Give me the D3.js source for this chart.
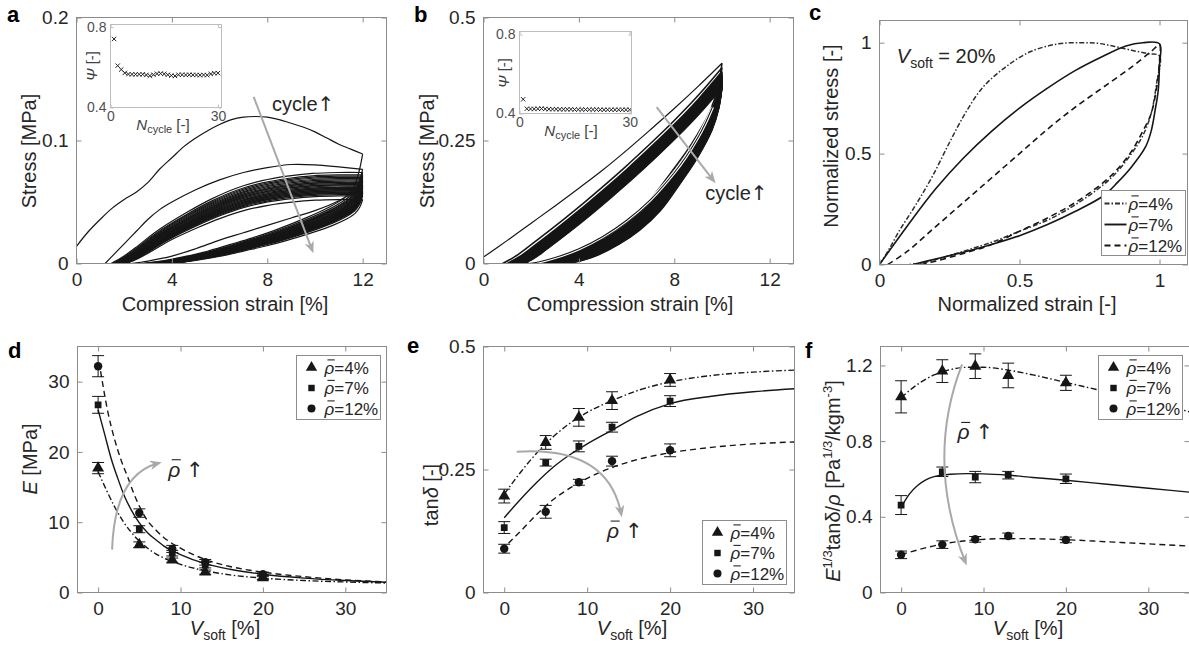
<!DOCTYPE html>
<html>
<head>
<meta charset="utf-8">
<script src="https://cdn.jsdelivr.net/npm/d3@7"></script>
<style>
  body { margin: 0; background: #fff; }
  svg { display: block; }
</style>
</head>
<body>
<script>
// ---------------- data ----------------
// (a) cyclic compression, 30 cycles up to 12 % strain
const aMaxStrain = 12;
const aStrainTicks = [0, 4, 8, 12];
const aStressTicks = [0, 0.1, 0.2];
const aCycle1Load = [[0,0.014],[0.5,0.026],[1,0.036],[1.5,0.045],[2,0.052],[2.5,0.058],[3,0.066],[3.5,0.077],[4,0.086],[4.5,0.095],[5,0.102],[5.5,0.108],[6,0.113],[6.5,0.117],[7,0.119],[7.5,0.1195],[8,0.119],[8.5,0.117],[9,0.114],[9.5,0.111],[10,0.107],[10.5,0.102],[11,0.097],[11.5,0.093],[12,0.089]];
const aCycle1Unload = [[12,0.089],[11.85,0.075],[11.65,0.063],[11.4,0.056],[11,0.051],[10,0.043],[9,0.037],[8,0.031],[7,0.025],[6,0.019],[5,0.012],[4,0.006],[3,0.002],[2.3,0]];
const aCycle2Load = [[1.2,0],[1.6,0.008],[2,0.016],[2.5,0.026],[3,0.036],[3.5,0.044],[4,0.05],[5,0.06],[6,0.068],[7,0.074],[8,0.078],[9,0.0805],[10,0.0802],[11,0.0785],[12,0.0765]];
// loading / unloading profiles of the later cycles (fraction of strain span, fraction of peak stress)
const aLoadShape = [[0,0],[0.05,0.08],[0.1,0.18],[0.15,0.29],[0.2,0.39],[0.3,0.56],[0.4,0.71],[0.5,0.83],[0.6,0.91],[0.7,0.96],[0.8,0.99],[0.9,1.0],[1,1.0]];
const aUnloadShape = [[1,1],[0.985,0.88],[0.96,0.78],[0.92,0.7],[0.85,0.6],[0.75,0.49],[0.6,0.35],[0.5,0.27],[0.4,0.2],[0.3,0.13],[0.2,0.075],[0.1,0.028],[0,0]];
// cycles 2..30
const aPeak = [0.0765,0.074,0.072,0.071,0.07,0.069,0.068,0.067,0.066,0.066,0.065,0.064,0.064,0.063,0.062,0.062,0.061,0.061,0.06,0.06,0.059,0.059,0.058,0.058,0.057,0.057,0.056,0.055,0.052];
const aOnset = [1.2,1.45,1.5,1.55,1.58,1.62,1.65,1.68,1.7,1.72,1.75,1.77,1.8,1.82,1.84,1.86,1.88,1.9,1.92,1.94,1.95,1.97,1.98,2.0,2.02,2.03,2.05,2.07,2.1];
const aUnloadEnd = [2.7,2.8,2.85,2.9,2.95,3.0,3.05,3.1,3.1,3.15,3.2,3.2,3.25,3.3,3.3,3.35,3.4,3.4,3.45,3.5,3.5,3.55,3.6,3.6,3.65,3.7,3.7,3.75,3.8];
const aPsi = [0.741,0.608,0.589,0.572,0.566,0.565,0.565,0.565,0.565,0.562,0.558,0.563,0.568,0.569,0.567,0.563,0.559,0.557,0.563,0.563,0.562,0.563,0.562,0.562,0.561,0.562,0.561,0.567,0.571,0.571];

// (b) cyclic compression, 30 cycles up to 10 % strain
const bMaxStrain = 10;
const bStrainTicks = [0, 4, 8, 12];
const bStressTicks = [0, 0.25, 0.5];
const bCycle1Load = [[0,0.013],[1,0.047],[2,0.082],[3,0.117],[4,0.153],[5,0.19],[6,0.23],[7,0.272],[8,0.315],[9,0.36],[10,0.407]];
const bLoadShape = [[0,0],[0.056,0.035],[0.111,0.08],[0.222,0.175],[0.333,0.275],[0.444,0.38],[0.556,0.49],[0.667,0.605],[0.778,0.725],[0.889,0.855],[1,1]];
const bUnloadShape = [[1,1],[0.98,0.88],[0.94,0.76],[0.85,0.6],[0.75,0.46],[0.625,0.3],[0.5,0.19],[0.375,0.11],[0.25,0.05],[0.125,0.012],[0,0]];
// cycles 2..30
const bPeak = [0.398,0.39,0.387,0.385,0.383,0.381,0.38,0.379,0.378,0.377,0.376,0.375,0.374,0.373,0.372,0.371,0.37,0.369,0.368,0.367,0.366,0.365,0.364,0.363,0.362,0.361,0.36,0.359,0.358];
const bOnset = [0.8,1.0,1.05,1.09,1.12,1.15,1.18,1.21,1.24,1.27,1.3,1.33,1.36,1.39,1.42,1.45,1.47,1.49,1.51,1.53,1.55,1.57,1.59,1.61,1.63,1.65,1.67,1.69,1.72];
// cycles 1..30
const bUnloadEnd = [1.6,1.7,1.76,1.82,1.88,1.93,1.98,2.03,2.08,2.13,2.18,2.23,2.28,2.33,2.38,2.43,2.48,2.53,2.58,2.63,2.68,2.73,2.78,2.83,2.88,2.93,2.97,3.01,3.05,3.1];
const bLastUnload = [[9.6,0.318],[9.3,0.285],[9,0.257],[8.5,0.218],[8,0.185],[7,0.13],[6,0.088],[5,0.055],[4,0.03],[3,0.012],[2.3,0.003],[1.9,0]];
const bPsi = [0.472,0.424,0.423,0.423,0.424,0.425,0.423,0.422,0.422,0.422,0.421,0.421,0.421,0.421,0.42,0.42,0.42,0.42,0.42,0.42,0.42,0.419,0.419,0.419,0.419,0.419,0.419,0.419,0.419,0.419];
const psiTicks = [0.4, 0.8];
const cycleTicks = [0, 30];

// (c) normalized loops at V_soft = 20 %
const normTicks = [0, 0.5, 1];
const cLoop4 = [[0,0],[0.03,0.06],[0.07,0.15],[0.13,0.27],[0.19,0.4],[0.25,0.55],[0.31,0.69],[0.37,0.8],[0.45,0.89],[0.54,0.96],[0.64,0.995],[0.72,1.0],[0.78,0.997],[0.84,0.983],[0.9,0.966],[0.96,0.95],[1.0,0.94],
  [0.99,0.82],[0.97,0.68],[0.94,0.58],[0.9,0.5],[0.85,0.42],[0.8,0.36],[0.7,0.27],[0.6,0.2],[0.5,0.15],[0.4,0.1],[0.3,0.06],[0.2,0.022],[0.15,0.006],[0.1,0]];
const cLoop7 = [[0,0],[0.1,0.175],[0.2,0.34],[0.3,0.48],[0.4,0.6],[0.5,0.705],[0.6,0.795],[0.7,0.875],[0.8,0.94],[0.88,0.985],[0.94,1.0],[1.0,0.995],
  [1.0,0.9],[0.995,0.78],[0.985,0.7],[0.97,0.6],[0.95,0.53],[0.9,0.44],[0.85,0.37],[0.8,0.31],[0.7,0.24],[0.6,0.18],[0.5,0.13],[0.4,0.09],[0.3,0.055],[0.2,0.025],[0.12,0]];
const cLoop12 = [[0.03,0],[0.1,0.06],[0.2,0.17],[0.3,0.28],[0.4,0.39],[0.5,0.5],[0.6,0.61],[0.7,0.71],[0.8,0.8],[0.9,0.89],[0.97,0.96],[1.0,0.99],
  [1.0,0.92],[0.99,0.8],[0.97,0.68],[0.94,0.6],[0.9,0.51],[0.85,0.43],[0.8,0.37],[0.7,0.28],[0.6,0.21],[0.5,0.15],[0.4,0.09],[0.3,0.05],[0.2,0.015],[0.15,0]];

// (d)-(f) properties vs. soft-phase fraction
const densities = [4, 7, 12];
const vsoft = [0, 5, 9, 13, 20];
const vTicks = [0, 10, 20, 30];
const eTicks = [0, 10, 20, 30];
const E4 = [17.7, 6.8, 4.6, 2.9, 2.1], E4err = [0.8, 0.4, 0.3, 0.3, 0.3];
const E7 = [26.7, 9.0, 5.6, 3.9, 2.2], E7err = [1.2, 0.5, 0.4, 0.4, 0.3];
const E12 = [32.2, 11.3, 6.2, 4.3, 2.6], E12err = [1.5, 0.6, 0.5, 0.4, 0.3];
const Efit4 = [[0,17.2],[1,14.6],[2,12.2],[3,10.2],[4,8.6],[5,7.3],[6,6.3],[7,5.5],[8,4.9],[10,4.0],[13,3.1],[16,2.5],[20,2.05],[25,1.7],[30,1.5],[35,1.35]];
const Efit7 = [[0,26],[0.8,22.5],[1.6,19],[2.4,16.2],[3.2,13.7],[4,11.8],[5,9.9],[6,8.5],[7,7.5],[8,6.6],[10,5.4],[13,4.1],[16,3.3],[20,2.6],[25,2.05],[30,1.7],[35,1.45]];
const Efit12 = [[0.3,31.5],[1.2,25.6],[2,21.8],[2.8,18.8],[3.6,16.4],[4.4,13.9],[5,12.3],[6,10.2],[7,8.9],[8,7.8],[10,6.3],[13,4.7],[16,3.7],[20,2.9],[25,2.25],[30,1.8],[35,1.5]];

const tanTicks = [0, 0.25, 0.5];
const T4 = [0.196, 0.305, 0.356, 0.39, 0.432], T4err = [0.014, 0.014, 0.018, 0.018, 0.013];
const T7 = [0.132, 0.264, 0.297, 0.336, 0.389], T7err = [0.012, 0.007, 0.011, 0.01, 0.011];
const T12 = [0.089, 0.164, 0.224, 0.267, 0.289], T12err = [0.009, 0.013, 0.006, 0.01, 0.013];
const Tfit4 = [[0,0.2],[2,0.245],[4,0.285],[6,0.318],[8,0.345],[10,0.366],[13,0.39],[16,0.41],[20,0.428],[25,0.441],[30,0.448],[35,0.452]];
const Tfit7 = [[0,0.152],[2,0.19],[4,0.225],[6,0.256],[8,0.281],[10,0.302],[13,0.33],[16,0.358],[20,0.384],[25,0.399],[30,0.408],[35,0.414]];
const Tfit12 = [[0.5,0.1],[2,0.125],[4,0.16],[6,0.19],[8,0.213],[10,0.232],[13,0.254],[16,0.27],[20,0.284],[25,0.295],[30,0.302],[35,0.306]];

const meritTicks = [0, 0.4, 0.8, 1.2];
const M4 = [1.034, 1.17, 1.196, 1.147, 1.108], M4err = [0.085, 0.06, 0.065, 0.065, 0.04];
const M7 = [0.462, 0.638, 0.61, 0.62, 0.601], M7err = [0.05, 0.025, 0.03, 0.02, 0.025];
const M12 = [0.199, 0.253, 0.281, 0.299, 0.278], M12err = [0.02, 0.02, 0.015, 0.015, 0.015];
const Mfit4 = [[0,1.03],[2,1.1],[4,1.15],[6,1.178],[8,1.19],[10,1.19],[13,1.175],[16,1.15],[20,1.11],[25,1.06],[30,1.01],[35,0.955]];
const Mfit7 = [[0,0.45],[1,0.52],[2,0.565],[3,0.595],[4,0.612],[6,0.625],[8,0.628],[10,0.627],[13,0.62],[16,0.608],[20,0.593],[25,0.572],[30,0.551],[35,0.53]];
const Mfit12 = [[0,0.2],[2,0.225],[5,0.256],[9,0.278],[13,0.285],[16,0.284],[20,0.279],[25,0.268],[30,0.257],[35,0.245]];

// ---------------- drawing ----------------
const FONT = '"Liberation Sans", Arial, Helvetica, sans-serif';
const ARROW_FONT = '"DejaVu Sans", sans-serif';
const TXT = '#262626', AX = '#8c8c8c', INK = '#161616', ARROW = '#a9a9a9';
const svg = d3.select('body').append('svg')
  .attr('width', 1189).attr('height', 653)
  .attr('font-family', FONT);
const defs = svg.append('defs');
defs.append('marker').attr('id', 'ah').attr('viewBox', '0 0 10 10')
  .attr('refX', 7).attr('refY', 5).attr('markerWidth', 6).attr('markerHeight', 6)
  .attr('orient', 'auto')
  .append('path').attr('d', 'M0,1 L10,5 L0,9 L3,5 Z').attr('fill', ARROW);

function panel(o) {
  const x = d3.scaleLinear().domain(o.xd).range([o.x0, o.x1]);
  const y = d3.scaleLinear().domain(o.yd).range([o.y1, o.y0]);
  const g = svg.append('g');
  const cid = 'clip_' + o.id;
  defs.append('clipPath').attr('id', cid).append('rect')
    .attr('x', o.x0).attr('y', o.y0).attr('width', o.x1 - o.x0).attr('height', o.y1 - o.y0);
  if (o.fill) g.append('rect').attr('x', o.x0).attr('y', o.y0)
    .attr('width', o.x1 - o.x0).attr('height', o.y1 - o.y0).attr('fill', o.fill);
  const plot = g.append('g').attr('clip-path', `url(#${cid})`);
  const ax = g.append('g');
  const tl = o.tickLen || 5, fs = o.fs || 19, ac = o.ac || AX, tc = o.tc || TXT;
  const fmt = d => String(d);
  const list = [
    [d3.axisBottom(x).tickValues(o.xt).tickFormat(fmt).tickPadding(o.xpad ?? 9), `translate(0,${o.y1})`],
    [d3.axisTop(x).tickValues(o.xt).tickFormat(''), `translate(0,${o.y0})`],
    [d3.axisLeft(y).tickValues(o.yt).tickFormat(fmt).tickPadding(o.ypad ?? 8), `translate(${o.x0},0)`],
    [d3.axisRight(y).tickValues(o.yt).tickFormat(''), `translate(${o.x1},0)`]
  ];
  list.forEach(([a, t]) => {
    const s = ax.append('g').attr('transform', t)
      .call(a.tickSizeInner(-tl).tickSizeOuter(0));
    s.attr('font-family', FONT).attr('font-size', fs);
    s.select('.domain').remove();
    s.selectAll('line').attr('stroke', ac);
    s.selectAll('text').attr('fill', tc);
  });
  ax.append('rect').attr('x', o.x0).attr('y', o.y0)
    .attr('width', o.x1 - o.x0).attr('height', o.y1 - o.y0)
    .attr('fill', 'none').attr('stroke', ac).attr('stroke-width', 1);
  return { x, y, g, plot };
}

function richText(parent, parts, attrs) {
  const t = parent.append('text');
  Object.entries(attrs).forEach(([k, v]) => t.attr(k, v));
  parts.forEach(p => {
    const s = t.append('tspan').text(p.t);
    if (p.i) s.attr('font-style', 'italic');
    if (p.fs) s.attr('font-size', p.fs);
    if (p.dy) s.attr('dy', p.dy);
    if (p.ff) s.attr('font-family', p.ff);
  });
  return t;
}

// bar over the rho glyph (first character of the text)
function rhoBar(parent, t, fs, baseY) {
  const ext = t.node().getExtentOfChar(0);
  parent.append('line')
    .attr('x1', ext.x + ext.width * 0.3).attr('x2', ext.x + ext.width * 1.05)
    .attr('y1', baseY - fs * 0.8).attr('y2', baseY - fs * 0.8)
    .attr('stroke', t.attr('fill') || TXT).attr('stroke-width', 1.1);
}

function rhoText(parent, x, y, rest, fs, arrowUp) {
  const t = parent.append('text').attr('x', x).attr('y', y)
    .attr('font-size', fs).attr('fill', TXT);
  t.append('tspan').attr('font-style', 'italic').text('ρ');
  t.append('tspan').text(rest);
  if (arrowUp) t.append('tspan').attr('font-family', ARROW_FONT).text('↑');
  rhoBar(parent, t, fs, y);
  return t;
}

function panelLetter(ch, x, y) {
  svg.append('text').attr('x', x).attr('y', y).attr('font-size', 22)
    .attr('font-weight', 'bold').attr('fill', '#000').text(ch);
}

function xTitle(p, parts, cx, by) {
  richText(p.g, parts, { x: cx, y: by, 'text-anchor': 'middle', 'font-size': 20, fill: TXT });
}
function yTitle(p, parts, bx, cy) {
  richText(p.g, parts, { transform: `translate(${bx},${cy}) rotate(-90)`, 'text-anchor': 'middle', 'font-size': 20, fill: TXT });
}

function arrow(p, from, ctrl, to) {
  // straight or quadratic annotation arrow, positioned in data units
  const a = [p.x(from[0]), p.y(from[1])], b = [p.x(to[0]), p.y(to[1])];
  let d = `M${a[0]},${a[1]} L${b[0]},${b[1]}`;
  if (ctrl) d = `M${a[0]},${a[1]} Q${p.x(ctrl[0])},${p.y(ctrl[1])} ${b[0]},${b[1]}`;
  p.g.append('path').attr('d', d).attr('fill', 'none').attr('stroke', ARROW)
    .attr('stroke-width', 2).attr('marker-end', 'url(#ah)');
}

const loopLine = p => d3.line().x(d => p.x(d[0])).y(d => p.y(d[1])).curve(d3.curveCatmullRom.alpha(0.5));
const fitLine = p => d3.line().x(d => p.x(d[0])).y(d => p.y(d[1])).curve(d3.curveMonotoneX);

function inset(o, psi) {
  const p = panel(Object.assign({ fs: 14, tickLen: 3, ac: '#bdbdbd', tc: '#505050', fill: '#fff', xpad: 4, ypad: 4 }, o));
  const s = 2.2;
  p.plot.selectAll('path.xm').data(psi).join('path')
    .attr('d', (v, i) => {
      const cx = p.x(i + 1), cy = p.y(v);
      return `M${cx - s},${cy - s}L${cx + s},${cy + s}M${cx - s},${cy + s}L${cx + s},${cy - s}`;
    })
    .attr('stroke', '#222').attr('stroke-width', 1);
  return p;
}

const cycleText = [{ t: 'cycle' }, { t: '↑', ff: ARROW_FONT }];

// ---------- (a) ----------
const pa = panel({ id: 'a', x0: 76.5, x1: 386.5, y0: 17.5, y1: 263.5, xd: [0, 13], yd: [0, 0.2], xt: aStrainTicks, yt: aStressTicks });
{
  const ln = loopLine(pa);
  const curves = [aCycle1Load, aCycle1Unload, aCycle2Load];
  aPeak.forEach((pk, i) => {
    if (i > 0) {
      const on = aOnset[i];
      curves.push(aLoadShape.map(([u, s]) => [on + u * (aMaxStrain - on), pk * s]));
    }
    const en = aUnloadEnd[i];
    curves.push(aUnloadShape.map(([u, s]) => [en + u * (aMaxStrain - en), pk * s]));
  });
  pa.plot.selectAll('path.c').data(curves).join('path')
    .attr('d', ln).attr('fill', 'none').attr('stroke', INK).attr('stroke-width', 1.2);
  arrow(pa, [7.43, 0.1355], null, [9.88, 0.011]);
  richText(pa.g, cycleText, { x: pa.x(8.2), y: pa.y(0.1237), 'font-size': 20, fill: TXT });
  xTitle(pa, [{ t: 'Compression strain [%]' }], 225, 311);
  yTitle(pa, [{ t: 'Stress [MPa]' }], 36, 151);
  const ia = inset({ id: 'ia', x0: 110.5, x1: 221.5, y0: 24.5, y1: 107.5, xd: [0, 31], yd: [0.4, 0.813], xt: cycleTicks, yt: psiTicks }, aPsi);
  richText(ia.g, [{ t: 'N', i: 1 }, { t: 'cycle', fs: 11, dy: 3 }, { t: ' [-]', dy: -3 }], { x: 163, y: 130, 'text-anchor': 'middle', 'font-size': 15, fill: '#404040' });
  richText(ia.g, [{ t: 'Ψ', i: 1 }, { t: ' [-]' }], { transform: 'translate(97,66) rotate(-90)', 'text-anchor': 'middle', 'font-size': 15, fill: '#404040' });
}
panelLetter('a', 7, 22);

// ---------- (b) ----------
const pb = panel({ id: 'b', x0: 483.5, x1: 793.5, y0: 17.5, y1: 263.5, xd: [0, 13], yd: [0, 0.5], xt: bStrainTicks, yt: bStressTicks });
{
  const ln = loopLine(pb);
  const curves = [];
  bUnloadEnd.forEach((en, i) => {
    const pk = i === 0 ? bCycle1Load[bCycle1Load.length - 1][1] : bPeak[i - 1];
    if (i > 0) {
      const on = bOnset[i - 1];
      curves.push(bLoadShape.map(([u, s]) => [on + u * (bMaxStrain - on), pk * s]));
    }
    curves.push(bUnloadShape.map(([u, s]) => [en + u * (bMaxStrain - en), pk * s]));
  });
  pb.plot.selectAll('path.c').data(curves).join('path')
    .attr('d', ln).attr('fill', 'none').attr('stroke', INK).attr('stroke-width', 1.6);
  pb.plot.append('path').attr('d', ln(bCycle1Load)).attr('fill', 'none').attr('stroke', INK).attr('stroke-width', 1.2);
  pb.plot.append('path').attr('d', ln(bLastUnload)).attr('fill', 'none').attr('stroke', '#fff').attr('stroke-width', 3.2);
  pb.plot.append('path').attr('d', ln(bLastUnload)).attr('fill', 'none').attr('stroke', INK).attr('stroke-width', 1.1);
  arrow(pb, [7.26, 0.318], null, [9.64, 0.169]);
  richText(pb.g, cycleText, { x: pb.x(9.3), y: pb.y(0.129), 'font-size': 20, fill: TXT });
  xTitle(pb, [{ t: 'Compression strain [%]' }], 630, 311);
  yTitle(pb, [{ t: 'Stress [MPa]' }], 434, 151);
  const ib = inset({ id: 'ib', x0: 519.5, x1: 631.5, y0: 31.5, y1: 113.5, xd: [0, 30.5], yd: [0.4, 0.815], xt: cycleTicks, yt: psiTicks }, bPsi);
  richText(ib.g, [{ t: 'N', i: 1 }, { t: 'cycle', fs: 11, dy: 3 }, { t: ' [-]', dy: -3 }], { x: 571, y: 136, 'text-anchor': 'middle', 'font-size': 15, fill: '#404040' });
  richText(ib.g, [{ t: 'Ψ', i: 1 }, { t: ' [-]' }], { transform: 'translate(509,73) rotate(-90)', 'text-anchor': 'middle', 'font-size': 15, fill: '#404040' });
}
panelLetter('b', 414, 22);

// ---------- (c) ----------
const pc = panel({ id: 'c', x0: 879.5, x1: 1187.5, y0: 20.5, y1: 264.5, xd: [0, 1.1], yd: [0, 1.1], xt: normTicks, yt: normTicks });
const cStyles = [
  { data: cLoop4, dash: '5,2,1.5,2', color: '#2e2e2e', w: 1.5 },
  { data: cLoop7, dash: null, color: INK, w: 1.6 },
  { data: cLoop12, dash: '6,4', color: INK, w: 1.6 }
];
{
  const ln = loopLine(pc);
  cStyles.forEach(s => {
    pc.plot.append('path').attr('d', ln(s.data)).attr('fill', 'none')
      .attr('stroke', s.color).attr('stroke-width', s.w).attr('stroke-dasharray', s.dash);
  });
  richText(pc.g, [{ t: 'V', i: 1 }, { t: 'soft', fs: 14, dy: 5 }, { t: ' = 20%', dy: -5 }],
    { x: pc.x(0.062), y: pc.y(0.909), 'font-size': 20, fill: TXT });
  xTitle(pc, [{ t: 'Normalized strain [-]' }], 1027, 311);
  yTitle(pc, [{ t: 'Normalized stress [-]' }], 838, 136);
  // legend
  const lg = pc.g.append('g');
  const bx = 1101.5, by = 190.5, bw = 84, bh = 65;
  lg.append('rect').attr('x', bx).attr('y', by).attr('width', bw).attr('height', bh)
    .attr('fill', '#fff').attr('stroke', AX);
  densities.forEach((r, i) => {
    const yy = by + 13 + i * 21;
    lg.append('line').attr('x1', bx + 3).attr('x2', bx + 25).attr('y1', yy).attr('y2', yy)
      .attr('stroke', cStyles[i].color).attr('stroke-width', cStyles[i].w + 0.3)
      .attr('stroke-dasharray', cStyles[i].dash);
    rhoText(lg, bx + 27, yy + 6, '=' + r + '%', 17);
  });
}
panelLetter('c', 809, 20);

// ---------- shared drawing for (d)-(f) ----------
const symTypes = [d3.symbolTriangle, d3.symbolSquare, d3.symbolCircle];
const symSizes = [62, 46, 56];
const fitDash = ['6,2.5,1.5,2.5', null, '6,4'];

function propertyPanel(p, vals, errs, fits, legend) {
  const fl = fitLine(p);
  fits.forEach((f, i) => {
    p.plot.append('path').attr('d', fl(f)).attr('fill', 'none').attr('stroke', INK)
      .attr('stroke-width', 1.4).attr('stroke-dasharray', fitDash[i]);
  });
  vals.forEach((vs, i) => {
    const g = p.plot.append('g');
    vs.forEach((v, j) => {
      const cx = p.x(vsoft[j]), lo = p.y(v - errs[i][j]), hi = p.y(v + errs[i][j]);
      g.append('path').attr('d', `M${cx},${lo}V${hi}M${cx - 6},${lo}H${cx + 6}M${cx - 6},${hi}H${cx + 6}`)
        .attr('stroke', INK).attr('stroke-width', 1).attr('fill', 'none');
      g.append('path').attr('d', d3.symbol().type(symTypes[i]).size(symSizes[i])())
        .attr('transform', `translate(${cx},${p.y(v)})`).attr('fill', INK);
    });
  });
  const lg = p.g.append('g');
  const { bx, by } = legend, bw = 84, bh = 64;
  lg.append('rect').attr('x', bx).attr('y', by).attr('width', bw).attr('height', bh)
    .attr('fill', '#fff').attr('stroke', AX);
  densities.forEach((r, i) => {
    const yy = by + 12 + i * 20.5;
    lg.append('path').attr('d', d3.symbol().type(symTypes[i]).size(symSizes[i] * 0.9)())
      .attr('transform', `translate(${bx + 15},${yy})`).attr('fill', INK);
    rhoText(lg, bx + 28, yy + 6, '=' + r + '%', 17);
  });
}
const vLabel = [{ t: 'V', i: 1 }, { t: 'soft', fs: 14, dy: 5 }, { t: ' [%]', dy: -5 }];

// ---------- (d) ----------
const pd = panel({ id: 'd', x0: 77.5, x1: 386.5, y0: 346.5, y1: 592.5, xd: [-2.5, 35], yd: [0, 35], xt: vTicks, yt: eTicks });
propertyPanel(pd, [E4, E7, E12], [E4err, E7err, E12err], [Efit4, Efit7, Efit12], { bx: 296.5, by: 355.5 });
arrow(pd, [1.7, 6.1], [2.0, 16.8], [7.3, 18.4]);
rhoText(pd.g, pd.x(8.5), pd.y(16.5), ' ', 21, true);
xTitle(pd, vLabel, 225, 635);
yTitle(pd, [{ t: 'E', i: 1 }, { t: ' [MPa]' }], 37, 459);
panelLetter('d', 8, 358);

// ---------- (e) ----------
const pe = panel({ id: 'e', x0: 483.5, x1: 794.5, y0: 346.5, y1: 592.5, xd: [-2.5, 35], yd: [0, 0.5], xt: vTicks, yt: tanTicks });
propertyPanel(pe, [T4, T7, T12], [T4err, T7err, T12err], [Tfit4, Tfit7, Tfit12], { bx: 702.5, by: 520.5 });
arrow(pe, [1.5, 0.286], [12.5, 0.298], [14.1, 0.16]);
rhoText(pe.g, pe.x(12.4), pe.y(0.111), ' ', 21, true);
xTitle(pe, vLabel, 632, 635);
yTitle(pe, [{ t: 'tan' }, { t: 'δ', i: 1 }, { t: ' [-]' }], 438, 495);
panelLetter('e', 407, 353);

// ---------- (f) ----------
const pf = panel({ id: 'f', x0: 880.5, x1: 1189.5, y0: 346.5, y1: 592.5, xd: [-2.5, 35], yd: [0, 1.3], xt: vTicks, yt: meritTicks });
propertyPanel(pf, [M4, M7, M12], [M4err, M7err, M12err], [Mfit4, Mfit7, Mfit12], { bx: 1098.5, by: 355.5 });
arrow(pf, [7.4, 1.205], [2.9, 0.7], [7.8, 0.16]);
rhoText(pf.g, pf.x(6.85), pf.y(0.81), ' ', 21, true);
xTitle(pf, vLabel, 1028, 635);
yTitle(pf, [{ t: 'E', i: 1 }, { t: '1/3', fs: 13, dy: -8 }, { t: 'tanδ/', dy: 8 }, { t: 'ρ', i: 1 },
  { t: ' [Pa' }, { t: '1/3', fs: 13, dy: -8 }, { t: '/kgm', dy: 8 }, { t: '-3', fs: 13, dy: -8 }, { t: ']', dy: 8 }], 840, 481);
panelLetter('f', 805, 358);
</script>
</body>
</html>
